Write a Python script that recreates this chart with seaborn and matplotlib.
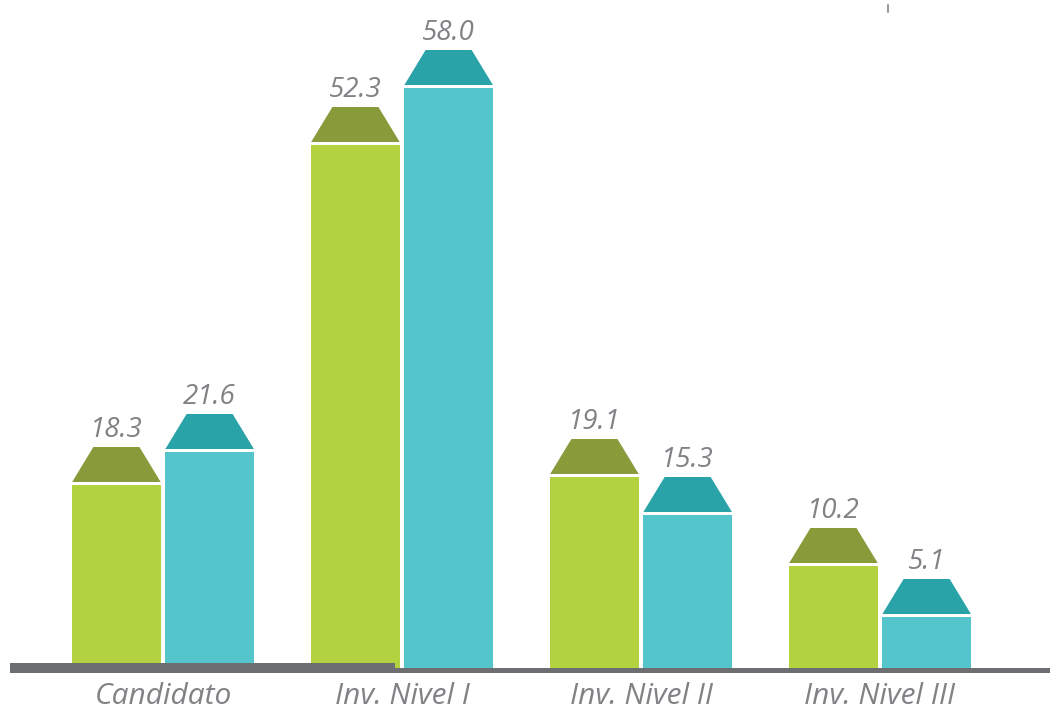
import matplotlib
matplotlib.use("Agg")
import matplotlib.pyplot as plt
from matplotlib.patches import Polygon, Rectangle
import matplotlib.transforms as mtransforms
import seaborn as sns
import pandas as pd

categories = ["Candidato", "Inv. Nivel I", "Inv. Nivel II", "Inv. Nivel III"]
series_names = ["Serie A", "Serie B"]
values_a = [18.3, 52.3, 19.1, 10.2]
values_b = [21.6, 58.0, 15.3, 5.1]

body_colors = {"Serie A": "#b2d23f", "Serie B": "#55c5cc"}
roof_colors = {"Serie A": "#879b3b", "Serie B": "#2aa3a8"}
label_gray = "#808285"
base_gray = "#6d6e71"

df = pd.DataFrame({
    "cat": categories * 2,
    "serie": [series_names[0]] * 4 + [series_names[1]] * 4,
    "val": values_a + values_b,
})

sns.set_theme(style="white")
plt.rcParams["font.family"] = ["Open Sans", "DejaVu Sans"]

fig = plt.figure(figsize=(10.5, 7.15), dpi=100)
ax = fig.add_axes([0, 0, 1, 1])

sns.barplot(data=df, x="cat", y="val", hue="serie", order=categories,
            hue_order=series_names, palette=body_colors, width=0.78, gap=0.05,
            saturation=1, legend=False, ax=ax, linewidth=0, errorbar=None)

ax.set_xlim(-0.682, 3.711)
ax.set_ylim(-4.7, 66.8)

gap = 0.3
roof_h = 3.5
inset = 0.24

body_to_roof = {}
for s in series_names:
    body_to_roof[matplotlib.colors.to_hex(body_colors[s])] = roof_colors[s]

for p in list(ax.patches):
    x0 = p.get_x()
    w = p.get_width()
    h = p.get_height()
    col = matplotlib.colors.to_hex(p.get_facecolor())
    rc = body_to_roof.get(col, "#888888")
    yb = h + gap
    yt = yb + roof_h
    roof = Polygon([(x0, yb), (x0 + w, yb), (x0 + w * (1 - inset), yt), (x0 + w * inset, yt)],
                   closed=True, facecolor=rc, edgecolor="none", zorder=3)
    ax.add_patch(roof)
    ax.text(x0 + w / 2, yt + 1.0, f"{h:.1f}", ha="center", va="baseline",
            fontsize=20, style="italic", color=label_gray, zorder=4)

# baseline (stepped)
trans = mtransforms.blended_transform_factory(ax.transAxes, ax.transData)
ax.add_patch(Rectangle((0.376, -0.5), 1 - 0.376, 0.5, transform=trans,
                       facecolor=base_gray, edgecolor="none", zorder=5))
ax.add_patch(Rectangle((0.0095, -0.5), 0.376 - 0.0095, 1.0, transform=trans,
                       facecolor=base_gray, edgecolor="none", zorder=5))
# small tick at top right
ax.plot([0.8457, 0.8457], [65.6, 66.3], transform=trans, color="#9a9a9a", lw=1.5)

for i, c in enumerate(categories):
    ax.text(i, -2.8, c, ha="center", va="center", fontsize=21.5, style="italic",
            color=label_gray)

ax.set_xticks([])
ax.set_yticks([])
ax.set_xlabel("")
ax.set_ylabel("")
for sp in ax.spines.values():
    sp.set_visible(False)

fig.savefig("out.png", dpi=100)
